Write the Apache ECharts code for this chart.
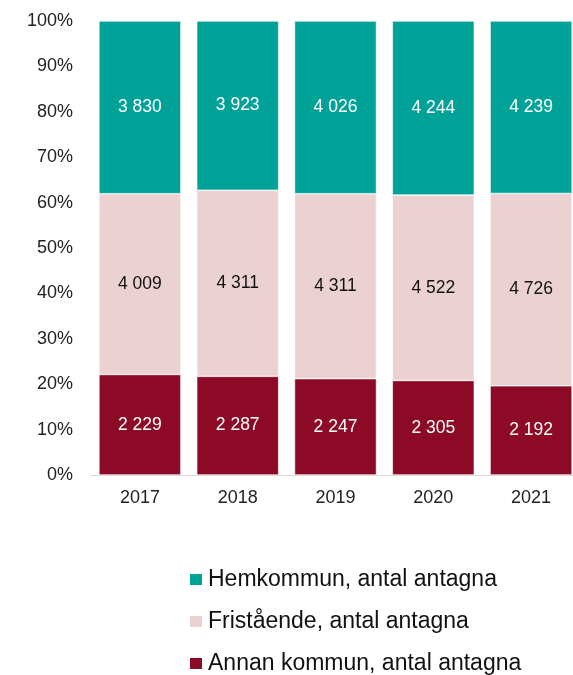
<!DOCTYPE html>
<html><head><meta charset="utf-8">
<script src="https://cdn.jsdelivr.net/npm/echarts@6/dist/echarts.min.js"></script>
<style>html,body{margin:0;padding:0;background:#fff}#c{width:573px;height:675px}</style>
</head><body><div id="c"></div>
<script>
var years = ['2017','2018','2019','2020','2021'];
var annan = [2229, 2287, 2247, 2305, 2192];
var fristaende = [4009, 4311, 4311, 4522, 4726];
var hemkommun = [3830, 3923, 4026, 4244, 4239];
var yTicks = ['0%','10%','20%','30%','40%','50%','60%','70%','80%','90%','100%'];

var totals = years.map(function(_, i){ return annan[i] + fristaende[i] + hemkommun[i]; });
function pct(arr){ return arr.map(function(v, i){ return { value: v / totals[i] * 100, raw: v }; }); }
function fmt(v){ return String(v).replace(/\B(?=(\d{3})+(?!\d))/g, ' '); }

var font = 'Liberation Sans';
function ser(name, arr, color, labelColor){
  return {
    name: name, type: 'bar', stack: 'a', data: pct(arr), barWidth: 82,
    itemStyle: { color: color, borderColor: '#ffffff', borderWidth: 0.6 },
    label: { show: true, position: 'inside', color: labelColor, fontFamily: font, fontSize: 17.5,
      formatter: function(p){ return fmt(p.data.raw); } },
    emphasis: { disabled: true }
  };
}

var chart = echarts.init(document.getElementById('c'));
chart.setOption({
  animation: false,
  grid: { left: 91, width: 489, top: 21, height: 454, containLabel: false, outerBoundsMode: 'none' },
  xAxis: {
    type: 'category', data: years,
    axisLine: { lineStyle: { color: '#d9d9d9', width: 1 } },
    axisTick: { show: false },
    axisLabel: { color: '#222', fontFamily: font, fontSize: 18, margin: 14 }
  },
  yAxis: {
    type: 'value', min: 0, max: 100, interval: 10,
    splitLine: { show: false }, axisLine: { show: false }, axisTick: { show: false },
    axisLabel: { color: '#222', fontFamily: font, fontSize: 18, margin: 18,
      formatter: function(v){ return yTicks[Math.round(v / 10)]; } }
  },
  legend: {
    orient: 'vertical', left: 188, top: 568, width: 380, height: 120, padding: 0,
    itemWidth: 14, itemHeight: 13, itemGap: 19,
    icon: 'rect',
    data: ['Hemkommun, antal antagna', 'Fristående, antal antagna', 'Annan kommun, antal antagna'],
    textStyle: { color: '#111', fontFamily: font, fontSize: 23 }
  },
  series: [
    ser('Annan kommun, antal antagna', annan, '#8C0A26', '#ffffff'),
    ser('Fristående, antal antagna', fristaende, '#EBD1D1', '#111111'),
    ser('Hemkommun, antal antagna', hemkommun, '#00A298', '#ffffff')
  ]
});
</script></body></html>
